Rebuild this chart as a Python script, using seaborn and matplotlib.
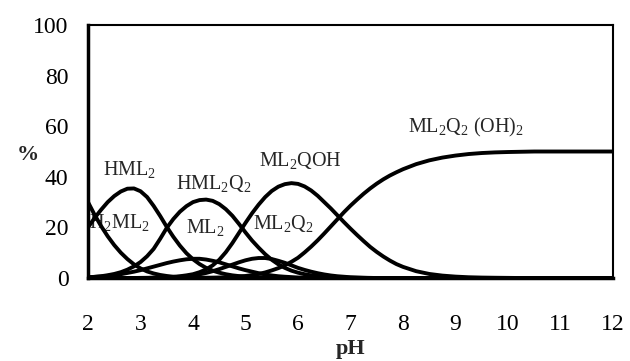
import matplotlib
matplotlib.use("Agg")
import matplotlib.pyplot as plt
import seaborn as sns
import pandas as pd

# ---- data: pH grid 2..8 step 0.125, then 8.25..12 step 0.25 ----
pH = [2.0 + 0.125 * i for i in range(49)] + [8.25 + 0.25 * i for i in range(16)]


def pad(lead, vals):
    out = [0.0] * lead + list(vals)
    return out + [0.0] * (len(pH) - len(out))


H2ML2 = pad(0, [30, 25, 20.5, 16.5, 13, 10, 7.5, 5.4, 3.8, 2.6, 1.8, 1.2, 0.8, 0.5,
                0.35, 0.2, 0.15, 0.1, 0.05])
HML2 = pad(0, [20, 23.7, 27, 30, 32.4, 34.2, 35.3, 35.4, 34.3, 32, 28.5, 24.5, 20.2,
               16.3, 12.8, 9.8, 7.4, 5.5, 4, 2.9, 2.1, 1.5, 1.05, 0.75, 0.5, 0.35,
               0.25, 0.17, 0.1, 0.07, 0.05])
HML2Q2 = pad(0, [0.3, 0.45, 0.7, 1.1, 1.6, 2.3, 3.3, 4.6, 6.3, 8.6, 11.5, 15.5, 19.8,
                 23.3, 26.2, 28.4, 30, 30.8, 31, 30.5, 29.2, 27.2, 24.6, 21.4, 18,
                 14.8, 12, 9.4, 7.2, 5.4, 4, 2.9, 2.1, 1.5, 1.05, 0.75, 0.5, 0.35,
                 0.25, 0.17, 0.1, 0.07, 0.05])
ML2 = pad(0, [0.3, 0.45, 0.6, 0.85, 1.1, 1.5, 2, 2.5, 3.1, 3.8, 4.5, 5.2, 5.9, 6.5,
              7, 7.4, 7.6, 7.6, 7.3, 6.8, 6.2, 5.4, 4.6, 3.8, 3.1, 2.5, 1.9, 1.4,
              1.0, 0.7, 0.5, 0.35, 0.2, 0.15, 0.1, 0.05])
ML2Q2 = pad(10, [0.1, 0.15, 0.2, 0.35, 0.5, 0.7, 1, 1.45, 2, 2.7, 3.5, 4.4, 5.3, 6.2,
                 7, 7.6, 7.9, 7.9, 7.5, 6.8, 6, 5, 4, 3.2, 2.5, 1.9, 1.4, 1, 0.7,
                 0.5, 0.3, 0.2, 0.1, 0.05])
ML2QOH = pad(8, [0.05, 0.08, 0.12, 0.2, 0.3, 0.45, 0.7, 1.05, 1.5, 2.3, 3.4, 5, 7.2,
                 10.2, 13.8, 17.8, 21.8, 25.6, 29, 32, 34.4, 36.1, 37.1, 37.5, 37.2,
                 36.2, 34.6, 32.5, 30, 27.5, 24.8, 22.1, 19.5, 17, 14.6, 12.3, 10.3,
                 8.5, 6.9, 5.5, 4.4,
                 2.7, 1.6, 0.95, 0.55, 0.3, 0.17, 0.1, 0.05])
ML2Q2OH2 = pad(16, [0.05, 0.07, 0.1, 0.15, 0.2, 0.3, 0.4, 0.6, 0.8, 1.15, 1.6, 2.2,
                    3, 3.9, 5, 6.4, 8, 10.1, 12.4, 14.9, 17.6, 20.4, 23.2, 26, 28.6,
                    31, 33.3, 35.4, 37.3, 39, 40.5, 41.8, 43,
                    45, 46.5, 47.6, 48.4, 49, 49.4, 49.65, 49.8, 49.9, 50, 50, 50,
                    50, 50, 50, 50])
MINOR = pad(17, [0.1, 0.3, 0.4, 0.45, 0.4, 0.3, 0.1, 0, 0, 0, 0.2, 0.6, 1.0, 1.3,
                 1.0, 0.4, 0])

series_names = ["H2ML2", "HML2", "HML2Q2", "ML2", "ML2Q2", "ML2QOH", "ML2Q2(OH)2"]
series_vals = [H2ML2, HML2, HML2Q2, ML2, ML2Q2, ML2QOH, ML2Q2OH2]

labels = [r"H$_\mathregular{2}$ML$_\mathregular{2}$", r"HML$_\mathregular{2}$",
          r"HML$_\mathregular{2}$Q$_\mathregular{2}$", r"ML$_\mathregular{2}$",
          r"ML$_\mathregular{2}$Q$_\mathregular{2}$", r"ML$_\mathregular{2}$QOH",
          r"ML$_\mathregular{2}$Q$_\mathregular{2}$ (OH)$_\mathregular{2}$"]
label_x = [2.6, 2.8, 4.4, 4.23, 5.72, 6.05, 9.2]
label_y = [22, 43, 37.5, 20, 21.5, 46.5, 59.5]

xticks = list(range(2, 13))
yticks = [0, 20, 40, 60, 80, 100]

# ---- build long table ----
rows = []
for name, vals in zip(series_names, series_vals):
    for x, v in zip(pH, vals):
        rows.append({"pH": x, "pct": v, "species": name})
df = pd.DataFrame(rows)

sns.set_theme(style="white")
plt.rcParams["font.family"] = ["Liberation Serif", "DejaVu Serif"]
plt.rcParams["mathtext.fontset"] = "custom"
plt.rcParams["mathtext.rm"] = "Liberation Serif"
plt.rcParams["mathtext.it"] = "Liberation Serif:italic"
plt.rcParams["mathtext.bf"] = "Liberation Serif:bold"

fig = plt.figure(figsize=(6.3, 3.61), dpi=100)
ax = fig.add_axes([0.1397, 0.2299, 0.8333, 0.7008])

ax.fill_between(pH, 0, MINOR, color="#f7c08c", linewidth=0, zorder=1.5)
sns.lineplot(data=df, x="pH", y="pct", hue="species", units="species",
             estimator=None, palette=["black"] * len(series_names),
             linewidth=2.8, legend=False, ax=ax, zorder=2, sort=False)

for t, x, y in zip(labels, label_x, label_y):
    ax.text(x, y, t, ha="center", va="center", fontsize=14.5, zorder=1)

ax.set_xlim(2, 12)
ax.set_ylim(0, 100)
ax.set_xticks(xticks)
ax.set_yticks(yticks)
ax.tick_params(axis="both", direction="in", length=5, width=1, colors="black",
               labelsize=17)
ax.tick_params(axis="x", pad=26)
ax.tick_params(axis="y", pad=14)
for s in ax.spines.values():
    s.set_color("black")
    s.set_linewidth(1.5)
ax.spines["bottom"].set_linewidth(2.5)
ax.spines["left"].set_linewidth(2.5)

ax.set_xlabel("pH", fontsize=16, fontweight="bold")
ax.xaxis.set_label_coords(0.5, -0.28)
ax.xaxis.label.set_va("center")
ax.set_ylabel("%", fontsize=16, fontweight="bold", rotation=0)
ax.yaxis.set_label_coords(-0.115, 0.486)
ax.yaxis.label.set_va("center")
ax.yaxis.label.set_ha("center")

fig.savefig("out.png", dpi=100)
